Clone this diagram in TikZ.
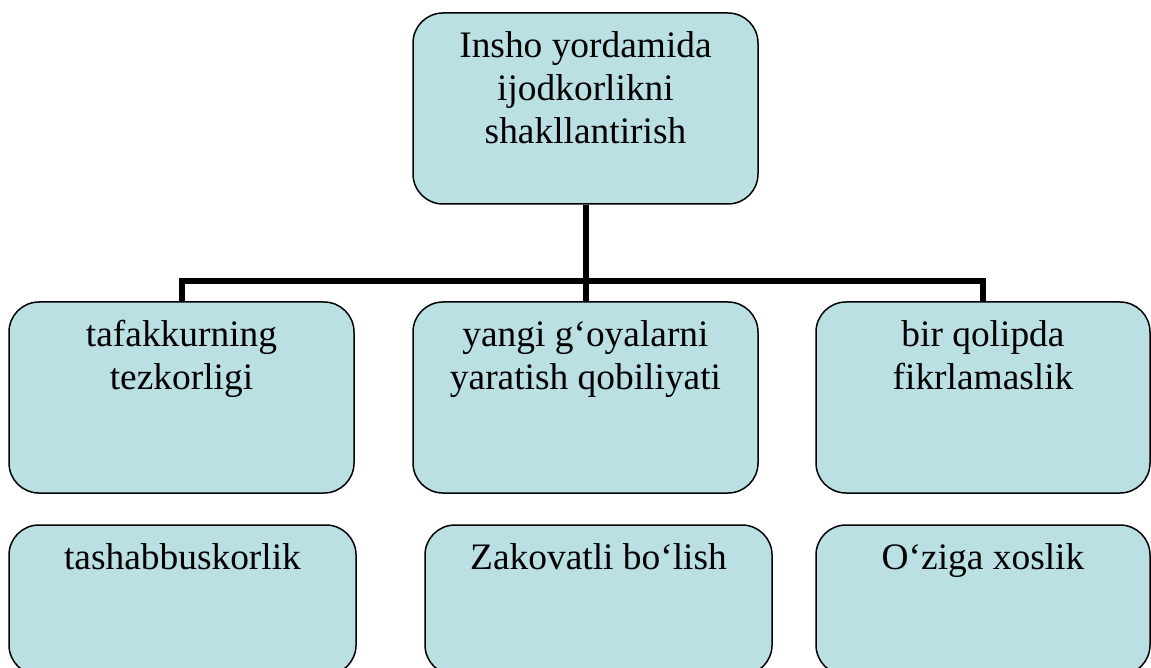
\documentclass[tikz,border=0pt]{standalone}
\usepackage{fontspec}
\setmainfont{Liberation Serif}
\usetikzlibrary{positioning}

\definecolor{boxfill}{RGB}{186,224,228}

\begin{document}
\begin{tikzpicture}[
    font=\fontsize{18.7pt}{21.5pt}\selectfont,
    card/.style={draw=black, line width=0.75pt, fill=boxfill, rounded corners=15pt,
      minimum width=172.5pt, minimum height=95.5pt, inner sep=0pt},
    lowcard/.style={card, minimum width=173.5pt, minimum height=75pt},
    cardtext/.style={anchor=north, inner sep=0pt, yshift=-9.4pt, align=center},
    tree/.style={line width=3pt, black}
  ]
  \useasboundingbox (0,0) rectangle (575.5pt,-334pt);

  % Top box
  \node[card, label={[cardtext]north:Insho yordamida\\ijodkorlikni\\shakllantirish}]
    (top) at (292.75pt,-54.25pt) {};

  % Middle row
  \node[card, label={[cardtext]north:tafakkurning\\tezkorligi}]
    (m1) at (90.75pt,-198.75pt) {};
  \node[card, label={[cardtext]north:yangi g‘oyalarni\\yaratish qobiliyati}]
    (m2) at (292.75pt,-198.75pt) {};
  \node[card, minimum width=167pt, label={[cardtext]north:bir qolipda\\fikrlamaslik}]
    (m3) at (491.5pt,-198.75pt) {};

  % Bottom row
  \node[lowcard, label={[cardtext]north:tashabbuskorlik}]
    (b1) at (91.25pt,-300pt) {};
  \node[lowcard, label={[cardtext]north:Zakovatli bo‘lish}]
    (b2) at (299.25pt,-300pt) {};
  \node[lowcard, minimum width=167pt, label={[cardtext]north:O‘ziga xoslik}]
    (b3) at (491.5pt,-300pt) {};

  % Tree connectors
  \coordinate (bus) at (0,-140.5pt);
  \draw[tree] (top.south) -- (top.south |- bus);
  \draw[tree] (m1.north) -- (m1.north |- bus) -- (m3.north |- bus) -- (m3.north);
  \draw[tree] (m2.north |- bus) -- (m2.north);

\end{tikzpicture}
\end{document}
